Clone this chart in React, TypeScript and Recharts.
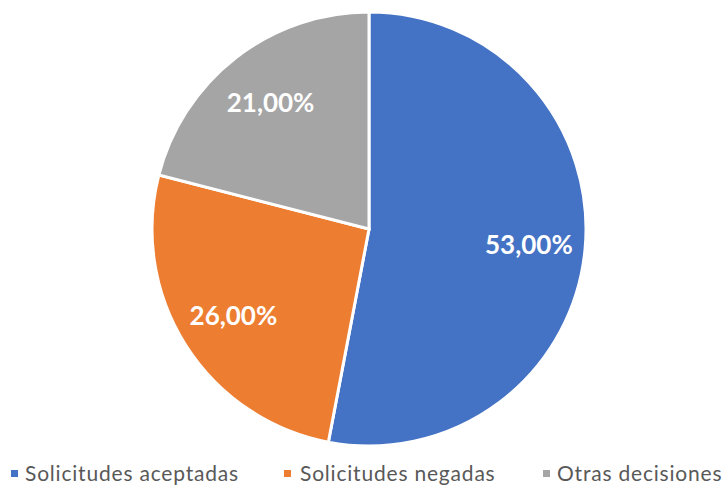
import React from "react";
import { PieChart, Pie, Cell, Legend } from "recharts";

const categories = ["Solicitudes aceptadas", "Solicitudes negadas", "Otras decisiones"];
const values = [53, 26, 21];
const colors = ["#4472C4", "#ED7D31", "#A5A5A5"];
const valueLabels = ["53,00%", "26,00%", "21,00%"];

const data = categories.map((name, i) => ({ name, value: values[i] }));

const RAD = Math.PI / 180;

const renderLabel = (props: any) => {
  const { cx, cy, midAngle, outerRadius, index } = props;
  const r = outerRadius * 0.74;
  const x = cx + r * Math.cos(-midAngle * RAD);
  const y = cy + r * Math.sin(-midAngle * RAD);
  return (
    <text
      x={x}
      y={y}
      fill="#FFFFFF"
      textAnchor="middle"
      dominantBaseline="central"
      fontFamily="Lato, 'Open Sans', sans-serif"
      fontWeight={700}
      fontSize={26}
    >
      {valueLabels[index]}
    </text>
  );
};

const markerX = [11, 284, 543];
const textX = [25, 300, 557];

const renderLegend = () => (
  <div style={{ position: "relative", width: 722, height: 30 }}>
    {categories.map((c, i) => (
      <React.Fragment key={c}>
        <span
          style={{
            position: "absolute",
            left: markerX[i],
            top: 12,
            width: 7,
            height: 7,
            background: colors[i],
          }}
        />
        <span
          style={{
            position: "absolute",
            left: textX[i],
            top: 0,
            lineHeight: "30px",
            fontFamily: "Lato, 'Open Sans', sans-serif",
            fontSize: 21,
            letterSpacing: 0.8,
            color: "#595959",
            whiteSpace: "nowrap",
          }}
        >
          {c}
        </span>
      </React.Fragment>
    ))}
  </div>
);

export default function App() {
  return (
    <div style={{ position: "absolute", left: 0, top: 0, width: 722, height: 485, background: "#fff" }}>
      <PieChart width={722} height={485} margin={{ top: 0, right: 0, bottom: 0, left: 0 }}>
        <Pie
          data={data}
          dataKey="value"
          nameKey="name"
          cx={369}
          cy={229}
          outerRadius={217}
          startAngle={90}
          endAngle={-270}
          stroke="#FFFFFF"
          strokeWidth={3}
          label={renderLabel}
          labelLine={false}
          isAnimationActive={false}
        >
          {data.map((d, i) => (
            <Cell key={d.name} fill={colors[i]} />
          ))}
        </Pie>
        <Legend
          content={renderLegend}
          wrapperStyle={{ position: "absolute", left: 0, top: 458, width: 722 }}
        />
      </PieChart>
    </div>
  );
}
